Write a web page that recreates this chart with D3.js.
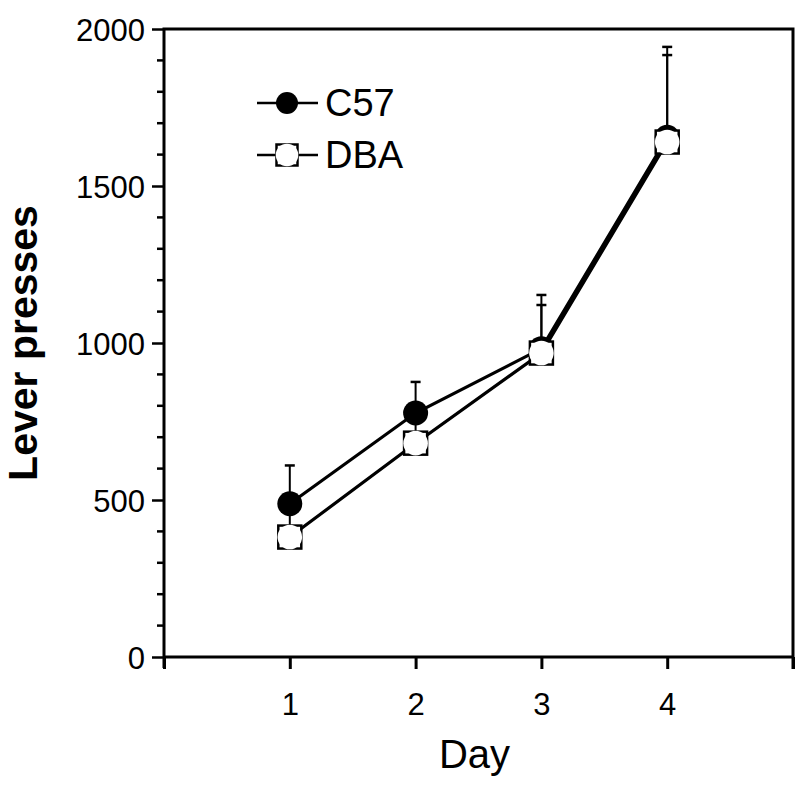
<!DOCTYPE html>
<html>
<head>
<meta charset="utf-8">
<script src="https://cdn.jsdelivr.net/npm/d3@7"></script>
<style>
  body { margin: 0; background: #fff; }
  svg { display: block; }
  text { font-family: "Liberation Sans", Arial, Helvetica, sans-serif; fill: #000; }
</style>
</head>
<body>
<svg id="chart" width="800" height="788"></svg>
<script>
// ---- data ----
const days = [1, 2, 3, 4];
const c57Mean = [488, 777, 982, 1655];
const c57Err  = [122, 99, 171, 288];
const dbaMean = [382, 681, 968, 1640];
const dbaErr  = [100, 90, 153, 277];
const yTicks = [0, 500, 1000, 1500, 2000];
const xTickLabels = ["1", "2", "3", "4"];
const seriesNames = ["C57", "DBA"];

const svg = d3.select("#chart");
const x = d3.scaleLinear().domain([0, 5]).range([164, 793]);
const y = d3.scaleLinear().domain([0, 2000]).range([657, 29]);
const AX = 3;
const FONT = "Liberation Sans, Arial, sans-serif";

// minor y ticks
const minor = d3.range(0, 2001, 100).filter(v => v % 500 !== 0);
svg.append("g").selectAll("line").data(minor).join("line")
  .attr("x1", x(0) - 7).attr("x2", x(0))
  .attr("y1", d => y(d)).attr("y2", d => y(d))
  .attr("stroke", "#000").attr("stroke-width", 2.5);

// left axis
const gy = svg.append("g").attr("transform", `translate(${x(0)},0)`)
  .call(d3.axisLeft(y).tickValues(yTicks).tickSize(12).tickPadding(7).tickFormat(d3.format("d")));
gy.select(".domain").remove();
gy.selectAll(".tick line").attr("stroke", "#000").attr("stroke-width", 2.5);
gy.selectAll(".tick text").attr("font-size", 31).attr("font-family", FONT).attr("dy", "0.36em");

// bottom axis
const gx = svg.append("g").attr("transform", `translate(0,${y(0)})`)
  .call(d3.axisBottom(x).tickValues([0, 1, 2, 3, 4, 5]).tickSize(12)
    .tickFormat(d => (d >= 1 && d <= 4) ? xTickLabels[d - 1] : ""));
gx.select(".domain").remove();
gx.selectAll(".tick line").attr("stroke", "#000").attr("stroke-width", AX);
gx.selectAll(".tick text").attr("font-size", 31).attr("font-family", FONT)
  .attr("y", 58).attr("dy", 0);

// frame
svg.append("path")
  .attr("d", `M${x(0)},${y(0) + 11} L${x(0)},${y(2000)} L${x(5)},${y(2000)} L${x(5)},${y(0) + 12} M${x(0)},${y(0)} L${x(5)},${y(0)}`)
  .attr("fill", "none").attr("stroke", "#000").attr("stroke-width", AX);

// axis titles
svg.append("text").attr("x", x(2.5) - 4).attr("y", 768).attr("text-anchor", "middle")
  .attr("font-size", 40).text("Day");
svg.append("text").attr("transform", `translate(37,${(y(0) + y(2000)) / 2}) rotate(-90)`)
  .attr("text-anchor", "middle").attr("font-size", 41).attr("font-weight", "bold").text("Lever presses");

const line = d3.line().x(d => x(d[0])).y(d => y(d[1]));
const c57 = days.map((d, i) => [d, c57Mean[i], c57Err[i]]);
const dba = days.map((d, i) => [d, dbaMean[i], dbaErr[i]]);

function errBars(data) {
  const g = svg.append("g");
  g.selectAll("line.v").data(data).join("line").attr("class", "v")
    .attr("x1", d => x(d[0])).attr("x2", d => x(d[0]))
    .attr("y1", d => y(d[1])).attr("y2", d => y(d[1] + d[2]))
    .attr("stroke", "#000").attr("stroke-width", 2);
  g.selectAll("line.c").data(data).join("line").attr("class", "c")
    .attr("x1", d => x(d[0]) - 5).attr("x2", d => x(d[0]) + 5)
    .attr("y1", d => y(d[1] + d[2])).attr("y2", d => y(d[1] + d[2]))
    .attr("stroke", "#000").attr("stroke-width", 2.5);
}
errBars(dba);
errBars(c57);

svg.append("path").datum(dba).attr("d", line).attr("fill", "none").attr("stroke", "#000").attr("stroke-width", 3.2);
svg.append("path").datum(c57).attr("d", line).attr("fill", "none").attr("stroke", "#000").attr("stroke-width", 3.2);

function c57Marker(sel, r) {
  sel.append("circle").attr("r", r).attr("fill", "#000");
}
function dbaMarker(sel, r) {
  sel.append("rect").attr("x", -r).attr("y", -r).attr("width", 2 * r).attr("height", 2 * r)
    .attr("fill", "#fff").attr("stroke", "#000").attr("stroke-width", 2.5);
  sel.append("circle").attr("r", r + 0.8).attr("fill", "#fff");
}

svg.append("g").selectAll("g").data(c57).join("g")
  .attr("transform", d => `translate(${x(d[0])},${y(d[1])})`)
  .each(function () { c57Marker(d3.select(this), 12.5); });
svg.append("g").selectAll("g").data(dba).join("g")
  .attr("transform", d => `translate(${x(d[0])},${y(d[1])})`)
  .each(function () { dbaMarker(d3.select(this), 11.5); });

// legend
const leg = svg.append("g");
const legY = [103, 155];
seriesNames.forEach((name, i) => {
  const g = leg.append("g").attr("transform", `translate(287,${legY[i]})`);
  g.append("line").attr("x1", -30).attr("x2", 31).attr("stroke", "#000").attr("stroke-width", 2.5);
  if (i === 0) c57Marker(g, 11); else dbaMarker(g, 10.5);
  leg.append("text").attr("x", 325).attr("y", legY[i] + 13).attr("font-size", 38).text(name);
});
</script>
</body>
</html>
